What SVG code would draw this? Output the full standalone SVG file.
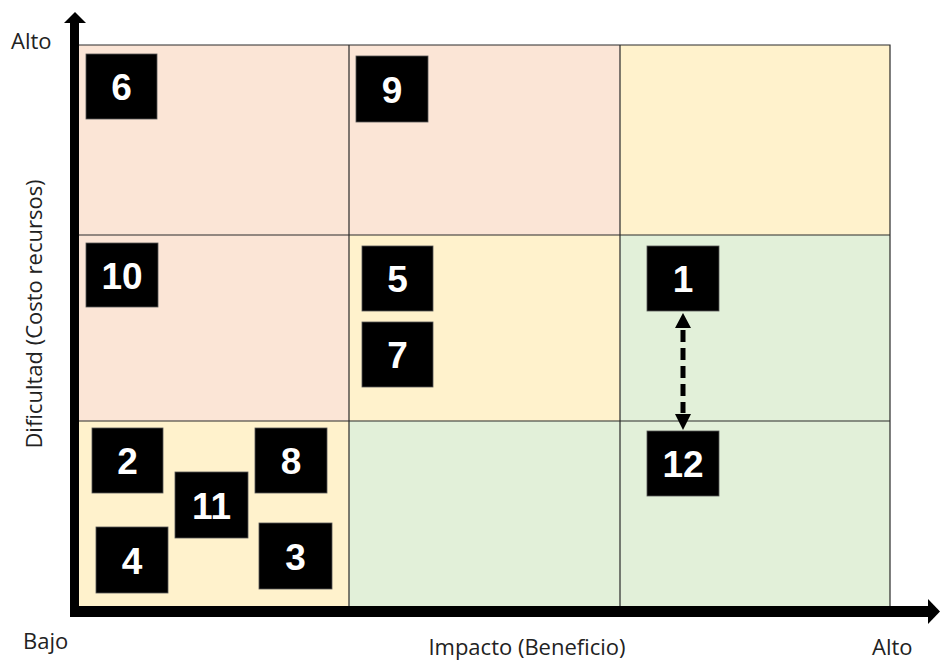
<svg xmlns="http://www.w3.org/2000/svg" width="940" height="660" viewBox="0 0 940 660">
<defs>
<style>
.pink{fill:#FBE5D6}
.yel{fill:#FFF2CC}
.grn{fill:#E2F0D9}
.grid{stroke:#2a2a2a;stroke-width:1.2;fill:none}
.box{fill:#000;stroke:#555;stroke-width:0.8}
.num{font-family:"Liberation Sans",Arial,sans-serif;font-weight:bold;font-size:37px;fill:#fff;text-anchor:middle}
.lbl{font-family:"Open Sans","Liberation Sans",sans-serif;font-size:22px;fill:#222}
.axis{fill:#000}
</style>
</defs>
<rect width="940" height="660" fill="#fff"/>
<g id="grid">
<rect class="pink" x="79" y="45" width="270" height="190"/>
<rect class="pink" x="349" y="45" width="271" height="190"/>
<rect class="yel" x="620" y="45" width="270" height="190"/>
<rect class="pink" x="79" y="235" width="270" height="186"/>
<rect class="yel" x="349" y="235" width="271" height="186"/>
<rect class="grn" x="620" y="235" width="270" height="186"/>
<rect class="yel" x="79" y="421" width="270" height="185"/>
<rect class="grn" x="349" y="421" width="271" height="185"/>
<rect class="grn" x="620" y="421" width="270" height="185"/>
<path class="grid" d="M79 45H890V606M349 45V606M620 45V606M79 235H890M79 421H890"/>
</g>
<g id="axes">
<rect class="axis" x="70" y="22" width="9" height="595"/>
<polygon class="axis" points="64,23 75,12 86,23"/>
<rect class="axis" x="70" y="606" width="858" height="11"/>
<polygon class="axis" points="928,599 940,611.5 928,624"/>
</g>
<g id="labels">
<text class="lbl" x="11" y="49">Alto</text>
<text class="lbl" x="23" y="649">Bajo</text>
<text class="lbl" x="872" y="655">Alto</text>
<text class="lbl" x="527" y="655" text-anchor="middle">Impacto (Beneficio)</text>
<text class="lbl" transform="translate(42,314) rotate(-90)" text-anchor="middle">Dificultad (Costo recursos)</text>
</g>
<g id="n6"><rect class="box" x="86" y="54" width="71" height="65"/><text class="num" x="121.5" y="100">6</text></g>
<g id="n9"><rect class="box" x="356" y="56" width="72" height="66"/><text class="num" x="392" y="102.5">9</text></g>
<g id="n10"><rect class="box" x="86" y="243" width="72" height="64"/><text class="num" x="122" y="288.5">10</text></g>
<g id="n5"><rect class="box" x="362" y="246" width="71" height="65"/><text class="num" x="397.5" y="292">5</text></g>
<g id="n7"><rect class="box" x="362" y="322" width="71" height="65"/><text class="num" x="397.5" y="368">7</text></g>
<g id="n1"><rect class="box" x="647" y="246" width="72" height="65"/><text class="num" x="683" y="292">1</text></g>
<g id="n12"><rect class="box" x="647" y="431" width="72" height="65"/><text class="num" x="683" y="477">12</text></g>
<g id="n2"><rect class="box" x="92" y="428" width="71" height="65"/><text class="num" x="127.5" y="474">2</text></g>
<g id="n8"><rect class="box" x="255" y="428" width="72" height="65"/><text class="num" x="291" y="474">8</text></g>
<g id="n11"><rect class="box" x="175" y="472" width="73" height="66"/><text class="num" x="211.5" y="518.5">11</text></g>
<g id="n4"><rect class="box" x="96" y="527" width="72" height="66"/><text class="num" x="132" y="573.5">4</text></g>
<g id="n3"><rect class="box" x="259" y="523" width="73" height="66"/><text class="num" x="295.5" y="569.5">3</text></g>
<g id="connectors">
<line x1="683" y1="330" x2="683" y2="413" stroke="#000" stroke-width="5" stroke-dasharray="12 6"/>
<polygon points="675,328 683,313 691,328" fill="#000"/>
<polygon points="675,414 683,430 691,414" fill="#000"/>
</g>
</svg>
